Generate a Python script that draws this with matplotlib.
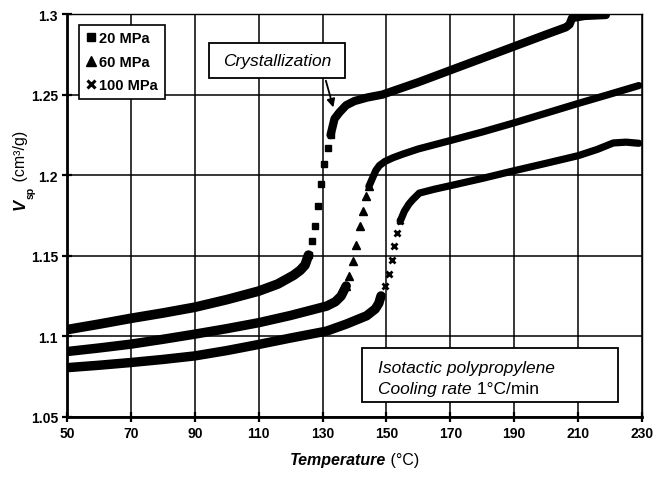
import matplotlib
matplotlib.use("Agg")
import matplotlib.pyplot as plt
from matplotlib.lines import Line2D
from matplotlib.patches import Rectangle

plt.rcParams['font.family'] = ['Liberation Sans', 'DejaVu Sans']

# ---- data ----
series_labels = ["20 MPa", "60 MPa", "100 MPa"]

# 20 MPa
t20_solid = [50, 60, 70, 80, 90, 100, 110, 116, 120.9, 123, 124.5, 125.6]
v20_solid = [1.1042, 1.1076, 1.1112, 1.1145, 1.1181, 1.1228, 1.1281, 1.1325, 1.1379, 1.1410, 1.1442, 1.1504]
t20_trans = [125.6, 126.8, 127.7, 128.6, 129.6, 130.6, 131.7, 132.5]
v20_trans = [1.1504, 1.1590, 1.1687, 1.1810, 1.1944, 1.2068, 1.2167, 1.2249]
t20_melt = [132.5, 133.75, 135.3, 137.4, 140, 144, 148.75, 160, 170, 180, 190, 200, 206.2, 207.3, 208.1, 212, 218.7]
v20_melt = [1.2249, 1.2350, 1.2390, 1.2434, 1.2460, 1.2482, 1.2500, 1.2577, 1.2651, 1.2725, 1.2799, 1.2873, 1.2918, 1.2935, 1.2975, 1.2988, 1.2994]

# 60 MPa
t60_solid = [50, 60, 70, 80, 90, 100, 110, 120, 131.3, 134, 135.8, 137.4]
v60_solid = [1.0906, 1.0928, 1.0952, 1.0982, 1.1014, 1.1048, 1.1085, 1.1130, 1.1188, 1.1215, 1.1250, 1.1313]
t60_trans = [137.4, 138.4, 139.5, 140.5, 141.6, 142.6, 143.6, 144.5]
v60_trans = [1.1313, 1.1375, 1.1467, 1.1570, 1.1683, 1.1780, 1.1868, 1.1930]
t60_melt = [144.5, 145.7, 146.7, 147.8, 149.5, 152, 155, 160, 170, 180, 190, 200, 210, 220, 229]
v60_melt = [1.1930, 1.1985, 1.2030, 1.2060, 1.2085, 1.2108, 1.2130, 1.2163, 1.2215, 1.2268, 1.2325, 1.2385, 1.2445, 1.2503, 1.2556]

# 100 MPa
t100_solid = [50, 60, 70, 80, 90, 100, 110, 120, 131.3, 137.5, 143.8, 146.5, 147.6, 148.3]
v100_solid = [1.0806, 1.0821, 1.0838, 1.0857, 1.0879, 1.0912, 1.0950, 1.0990, 1.1033, 1.1077, 1.1128, 1.1170, 1.1205, 1.1251]
t100_trans = [148.3, 149.7, 150.7, 151.7, 152.5, 153.2, 154.3]
v100_trans = [1.1251, 1.1313, 1.1385, 1.1477, 1.1560, 1.1642, 1.1714]
t100_melt = [154.3, 155.6, 157, 158.2, 160.3, 165, 170, 180, 190, 200, 210, 216, 221, 225, 229]
v100_melt = [1.1714, 1.1776, 1.1820, 1.1848, 1.1889, 1.1913, 1.1935, 1.1980, 1.2028, 1.2074, 1.2121, 1.2160, 1.2200, 1.2205, 1.2198]

x_ticks = [50, 70, 90, 110, 130, 150, 170, 190, 210, 230]
y_ticks = [1.05, 1.1, 1.15, 1.2, 1.25, 1.3]
y_ticklabels = ["1.05", "1.1", "1.15", "1.2", "1.25", "1.3"]

# ---- figure ----
fig = plt.figure(figsize=(6.54, 4.81), dpi=100)
ax = fig.add_axes([67/654, 1-418/481, (642-67)/654, (418-15)/481])
ax.set_xlim(50, 230)
ax.set_ylim(1.05, 1.3)

ax.set_xticks(x_ticks)
ax.set_yticks(y_ticks)
ax.set_yticklabels(y_ticklabels)
ax.grid(True, color='black', linewidth=1.1, zorder=0)
ax.set_axisbelow(True)
for s in ['left', 'bottom']:
    ax.spines[s].set_linewidth(2.0)
for s in ['top', 'right']:
    ax.spines[s].set_linewidth(1.0)
ax.tick_params(direction='inout', length=7, width=1.6, labelsize=10, pad=3)
for lab in ax.get_xticklabels() + ax.get_yticklabels():
    lab.set_fontweight('bold')

k = 'black'
lk = dict(color=k, solid_capstyle='round', solid_joinstyle='round', zorder=3)
# 20 MPa
ax.plot(t20_solid, v20_solid, lw=7.0, **lk)
ax.plot(t20_melt, v20_melt, lw=6.0, **lk)
ax.plot(t20_trans, v20_trans, ls='none', marker='s', ms=4.8, color=k, zorder=3)
# 60 MPa
ax.plot(t60_solid, v60_solid, lw=6.8, **lk)
ax.plot(t60_melt, v60_melt, lw=5.2, **lk)
ax.plot(t60_trans, v60_trans, ls='none', marker='^', ms=5.4, color=k, zorder=3)
# 100 MPa
ax.plot(t100_solid, v100_solid, lw=6.8, **lk)
ax.plot(t100_melt, v100_melt, lw=5.2, **lk)
ax.plot(t100_trans, v100_trans, ls='none', marker='x', ms=5.0, mew=2.0, color=k, zorder=3)

# legend
handles = [Line2D([], [], ls='none', marker='s', ms=5.5, color=k),
           Line2D([], [], ls='none', marker='^', ms=6.5, color=k),
           Line2D([], [], ls='none', marker='x', ms=5.5, mew=2.2, color=k)]
leg = ax.legend(handles, series_labels, loc='upper left', bbox_to_anchor=(0.021, 0.973),
                borderaxespad=0, frameon=True, fancybox=False, edgecolor='black',
                framealpha=1, prop={'weight': 'bold', 'size': 10.5}, handlelength=0.7,
                handletextpad=0.25, labelspacing=0.65, borderpad=0.45)
leg.get_frame().set_linewidth(1.2)
leg.set_zorder(6)

# Crystallization box
ax.add_patch(Rectangle((0.247, 0.841), 0.2365, 0.087, transform=ax.transAxes,
                       facecolor='white', edgecolor='black', lw=1.3, zorder=5))
ax.text(0.3655, 0.8845, "Crystallization", transform=ax.transAxes, ha='center', va='center',
        fontsize=12.5, fontstyle='italic', zorder=6)
ax.annotate("", xy=(133.6, 1.2404), xytext=(130.8, 1.2603),
            arrowprops=dict(arrowstyle='-|>', color='black', lw=1.3, mutation_scale=12),
            zorder=6)

# Isotactic box
ax.add_patch(Rectangle((0.513, 0.037), 0.445, 0.134, transform=ax.transAxes,
                       facecolor='white', edgecolor='black', lw=1.3, zorder=5))
ax.text(0.541, 0.124, "Isotactic polypropylene", transform=ax.transAxes, ha='left',
        va='center', fontsize=12.5, fontstyle='italic', zorder=6)
t1 = ax.text(0.541, 0.0695, "Cooling rate", transform=ax.transAxes, ha='left',
             va='center', fontsize=12.5, fontstyle='italic', zorder=6)
ax.annotate(" 1°C/min", xy=(1, 0.5), xycoords=t1, ha='left', va='center',
            fontsize=12.5, zorder=6)

# x label
xl = fig.text(290/654, 1-460/481, "Temperature", ha='left', va='center',
              fontsize=11.5, fontweight='bold', fontstyle='italic')
ax.annotate(" (°C)", xy=(1, 0.5), xycoords=xl, ha='left', va='center', fontsize=11.5,
            annotation_clip=False)

# y label
yl = fig.text(20/654, 1-210/481, "V", ha='center', va='bottom', rotation=90,
              fontsize=12, fontweight='bold', fontstyle='italic')
ax.annotate("sp", xy=(1.0, 1), xycoords=yl, xytext=(-1.5, 0), textcoords='offset points',
            ha='left', va='bottom', rotation=90, fontsize=7.5, fontweight='bold',
            annotation_clip=False)
ax.annotate(" (cm³/g)", xy=(0.5, 1), xycoords=yl, xytext=(0, 9), textcoords='offset points',
            ha='center', va='bottom', rotation=90, fontsize=11.5, annotation_clip=False)

fig.savefig("out.png", dpi=100)
